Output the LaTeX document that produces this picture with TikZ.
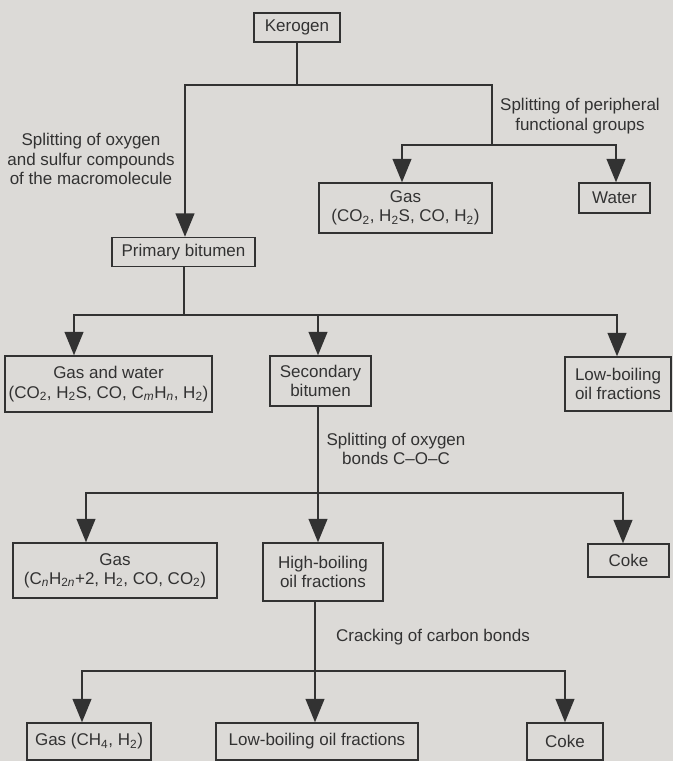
\documentclass[tikz,border=0pt]{standalone}
\usepackage{fontspec}
\setmainfont{Liberation Sans}
\usetikzlibrary{arrows.meta}
\definecolor{paper}{RGB}{220,218,215}
\definecolor{ink}{RGB}{50,50,50}

\begin{document}
\begin{tikzpicture}[x=0.03cm,y=-0.03cm,
    every node/.style={align=center, text=ink, font=\fontsize{14.5}{16.5}\selectfont},
    box/.style={draw=ink, line width=1.2pt, inner sep=0pt},
    boxsize/.style 2 args={minimum width=#1*0.03cm, minimum height=#2*0.03cm},
    conn/.style={draw=ink, line width=1.6pt},
    arr/.style={conn, -{Triangle[length=0.7cm,width=0.56cm]}}]
  \fill[paper] (0,0) rectangle (673,761);
  % boxes
  \node[box, boxsize={86}{29}] (ker) at (297,27.5) {Kerogen};
  \node[box, boxsize={173}{50}] (gas1) at (405.5,208) {Gas\\(CO\textsubscript{2}, H\textsubscript{2}S, CO, H\textsubscript{2})};
  \node[box, boxsize={71}{30}] (wat) at (614.5,198) {Water};
  \node[box, boxsize={143}{29}] (pri) at (183.5,252) {Primary bitumen};
  \node[box, boxsize={207}{56}] (gw) at (108.5,384) {Gas and water\\(CO\textsubscript{2}, H\textsubscript{2}S, CO, C\textsubscript{\textit{m}}H\textsubscript{\textit{n}}, H\textsubscript{2})};
  \node[box, boxsize={101}{50}] (sec) at (320.5,381) {Secondary\\bitumen};
  \node[box, boxsize={106}{54}] (low1) at (618,384) {Low-boiling\\oil fractions};
  \node[box, boxsize={204}{55}] (gas2) at (115,570.5) {Gas\\(C\textsubscript{\textit{n}}H\textsubscript{2\textit{n}}+2, H\textsubscript{2}, CO, CO\textsubscript{2})};
  \node[box, boxsize={120}{58}] (hb) at (323,572) {High-boiling\\oil fractions};
  \node[box, boxsize={81}{33}] (coke1) at (628.5,560.5) {Coke};
  \node[box, boxsize={124}{37}] (gas3) at (89,741.5) {Gas (CH\textsubscript{4}, H\textsubscript{2})};
  \node[box, boxsize={202}{37}] (low2) at (317,741.5) {Low-boiling oil fractions};
  \node[box, boxsize={76}{37}] (coke2) at (565,741.5) {Coke};
  % labels
  \node (lab1) at (91,159) {Splitting of oxygen\\and sulfur compounds\\of the macromolecule};
  \node (lab2) at (580,116) {Splitting of peripheral\\functional groups};
  \node (lab3) at (396,449) {Splitting of oxygen\\bonds C\textendash O\textendash C};
  \node (lab4) at (433,637) {Cracking of carbon bonds};
  % bus points
  \coordinate (b1) at (297,85);   \coordinate (b1l) at (185,85);  \coordinate (b1r) at (492,85);
  \coordinate (s1) at (492,145);  \coordinate (s1l) at (402,145); \coordinate (s1r) at (616,145);
  \coordinate (b2) at (184,315);  \coordinate (b2l) at (74,315);  \coordinate (b2r) at (617,315);
  \coordinate (b2m) at (318,315);
  \coordinate (b3) at (318,493);  \coordinate (b3l) at (86,493);  \coordinate (b3r) at (623,493);
  \coordinate (b4) at (315,671);  \coordinate (b4l) at (82,671);  \coordinate (b4r) at (565,671);
  % kerogen
  \draw[conn] (ker) -- (b1);
  \draw[arr] (b1) -- (b1l) -- (b1l |- pri.north);
  \draw[conn] (b1) -- (b1r) -- (s1);
  \draw[arr] (s1) -- (s1l) -- (s1l |- gas1.north);
  \draw[arr] (s1) -- (s1r) -- (s1r |- wat.north);
  % primary bitumen
  \draw[conn] (b2 |- pri.south) -- (b2);
  \draw[arr] (b2) -- (b2l) -- (b2l |- gw.north);
  \draw[arr] (b2) -- (b2r) -- (b2r |- low1.north);
  \draw[arr] (b2m) -- (b2m |- sec.north);
  % secondary bitumen
  \draw[arr] (b3 |- sec.south) -- (b3 |- hb.north);
  \draw[arr] (b3) -- (b3l) -- (b3l |- gas2.north);
  \draw[arr] (b3) -- (b3r) -- (b3r |- coke1.north);
  % high-boiling
  \draw[arr] (b4 |- hb.south) -- (b4 |- low2.north);
  \draw[arr] (b4) -- (b4l) -- (b4l |- gas3.north);
  \draw[arr] (b4) -- (b4r) -- (b4r |- coke2.north);
\end{tikzpicture}
\end{document}
